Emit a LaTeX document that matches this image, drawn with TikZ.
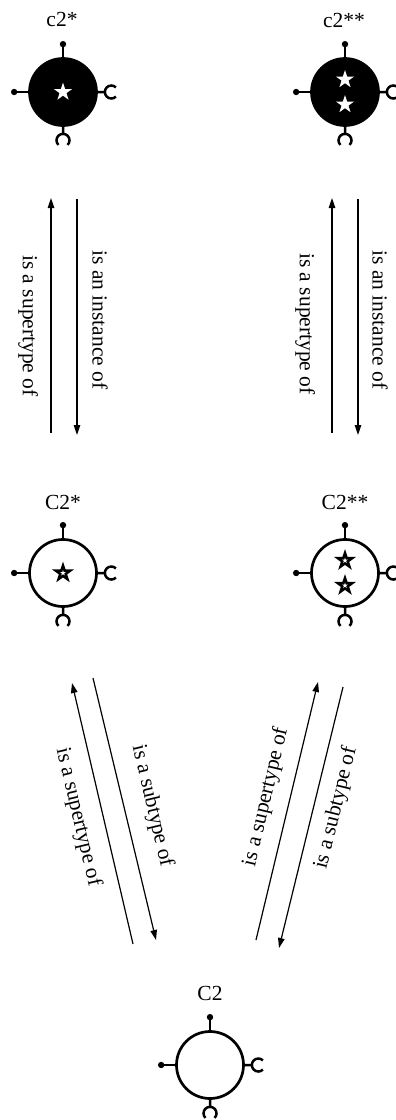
\documentclass[tikz,border=0pt]{standalone}
\usepackage{fontspec}
\setmainfont{Liberation Serif}
\usetikzlibrary{shapes.geometric,arrows.meta}
\newcommand\compPins[1]{%
  \draw[pin] (#1.north) -- ++(0,13) coordinate (#1-tp);
  \fill (#1-tp) circle[radius=3.2bp];
  \draw[pin] (#1.west) -- ++(-14,0) coordinate (#1-lp);
  \fill (#1-lp) circle[radius=3.2bp];
  \draw[pin] (#1.east) -- ++(7,0) arc[start angle=180,end angle=45,radius=6.5bp];
  \draw[pin] (#1.east) ++(7,0) arc[start angle=180,end angle=315,radius=6.5bp];
  \draw[pin] (#1.south) -- ++(0,-7) arc[start angle=90,end angle=-45,radius=6.5bp];
  \draw[pin] (#1.south) ++(0,-7) arc[start angle=90,end angle=225,radius=6.5bp];
}
\begin{document}
\begin{tikzpicture}[x=1bp,y=1bp,
  comp/.style={circle, draw=black, line width=2.7bp, minimum size=67bp, inner sep=0pt, fill=white},
  fullcomp/.style={comp, fill=black},
  pin/.style={line width=2.5bp},
  lab/.style={font=\fontsize{21.5bp}{24bp}\selectfont, inner sep=0pt},
  cname/.style={lab, anchor=base},
  rel/.style={line width=1.2bp, -{Triangle[length=10bp,width=6.5bp]}},
  whitestar/.style={star, star points=5, star point ratio=2.6, fill=white, minimum size=19bp, inner sep=0pt},
  blackstar/.style={star, star points=5, star point ratio=2.6, fill=black, minimum size=#1, inner sep=0pt},
  holestar/.style={star, star points=5, star point ratio=2.6, fill=white, minimum size=6bp, inner sep=0pt}
]
\path[use as bounding box] (0,0) rectangle (395,-1120);

% components
\node[fullcomp] (c2s) at (63,-92) {};
\node[fullcomp] (c2ss) at (345,-92) {};
\node[comp] (C2s) at (63,-573) {};
\node[comp] (C2ss) at (345,-573) {};
\node[comp] (C2) at (210,-1065) {};
\compPins{c2s}
\compPins{c2ss}
\compPins{C2s}
\compPins{C2ss}
\compPins{C2}

% stars
\node[whitestar] (st1) at (c2s) {};
\node[whitestar] (st2) at ([yshift=12.5bp]c2ss.center) {};
\node[whitestar] (st3) at ([yshift=-12.5bp]c2ss.center) {};
\node[blackstar=23bp] (st4) at (C2s) {};
\node[holestar] (st4h) at (C2s) {};
\node[blackstar=23bp] (st5) at ([yshift=12.5bp]C2ss.center) {};
\node[holestar] (st5h) at (st5) {};
\node[blackstar=23bp] (st6) at ([yshift=-12.5bp]C2ss.center) {};
\node[holestar] (st6h) at (st6) {};

% names
\node[cname] (n1) at (62,-26) {c2*};
\node[cname] (n2) at (344,-27) {c2**};
\node[cname] (n3) at (63,-509) {C2*};
\node[cname] (n4) at (345,-509) {C2**};
\node[cname] (n5) at (210,-1000) {C2};

% connector end points
\coordinate (a1s) at (51,-433);  \coordinate (a1e) at (51,-198);
\coordinate (a2s) at (77,-199);  \coordinate (a2e) at (77,-435);
\coordinate (a3s) at (332,-433); \coordinate (a3e) at (332,-198);
\coordinate (a4s) at (358,-199); \coordinate (a4e) at (358,-435);
\coordinate (d1s) at (133,-944); \coordinate (d1e) at (72,-683);
\coordinate (d2s) at (93,-678);  \coordinate (d2e) at (156,-940);
\coordinate (d3s) at (256,-940); \coordinate (d3e) at (318,-682);
\coordinate (d4s) at (343,-687); \coordinate (d4e) at (279,-948);

\draw[rel] (a1s) -- (a1e);
\draw[rel] (a2s) -- (a2e);
\draw[rel] (a3s) -- (a3e);
\draw[rel] (a4s) -- (a4e);
\draw[rel] (d1s) -- (d1e);
\draw[rel] (d2s) -- (d2e);
\draw[rel] (d3s) -- (d3e);
\draw[rel] (d4s) -- (d4e);

% relation labels
\node[lab, rotate=-90] (l1) at (28,-326) {is a supertype of};
\node[lab, rotate=-90] (l2) at (100,-320) {is an instance of};
\node[lab, rotate=-90] (l3) at (305,-324) {is a supertype of};
\node[lab, rotate=-90] (l4) at (380,-320) {is an instance of};
\node[lab, rotate=-76.7] (l5) at (78,-817) {is a supertype of};
\node[lab, rotate=-76.7] (l6) at (152,-806) {is a subtype of};
\node[lab, rotate=76.7] (l7) at (266,-797) {is a supertype of};
\node[lab, rotate=76.2] (l8) at (336,-808) {is a subtype of};
\end{tikzpicture}
\end{document}
